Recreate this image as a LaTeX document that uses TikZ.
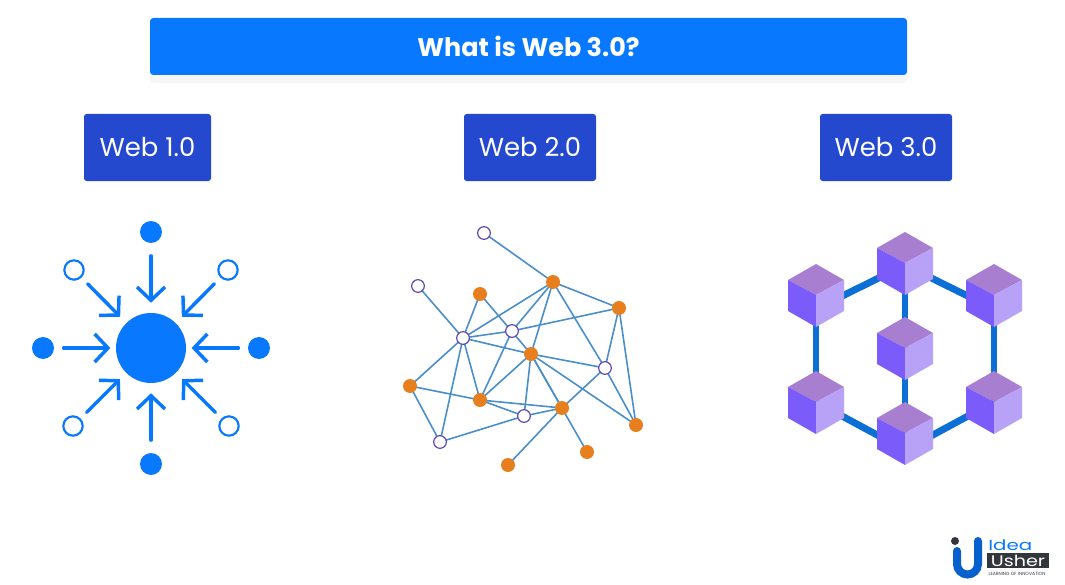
\documentclass[tikz,border=0pt]{standalone}
\usepackage{fontspec}
\setmainfont{Poppins}
\usetikzlibrary{arrows.meta,shadows,backgrounds}

\definecolor{titleblue}{HTML}{0879FF}
\definecolor{boxblue}{HTML}{2449CF}
\definecolor{hubblue}{HTML}{0879FF}
\definecolor{linkblue}{HTML}{4A8FCB}
\definecolor{ringviolet}{HTML}{5B45B5}
\definecolor{dotorange}{HTML}{E77F1E}
\definecolor{chainblue}{HTML}{0B6FD6}
\definecolor{cubetop}{HTML}{A77ED0}
\definecolor{cubeleft}{HTML}{7B5BFA}
\definecolor{cuberight}{HTML}{B8A2F7}
\definecolor{logodark}{HTML}{33363B}

\tikzset{
  webbox/.style={fill=boxblue, rounded corners=2pt, text=white, font=\fontsize{19.4}{19}\selectfont, inner sep=0pt, minimum height=50.25pt},
  hubdot/.style={circle, fill=hubblue, inner sep=0pt, minimum size=16.5pt},
  hubring/.style={circle, draw=hubblue, fill=white, line width=1.6pt, inner sep=0pt, minimum size=14.5pt},
  inarrow/.style={draw=hubblue, line width=2.6pt, line cap=round, -{Straight Barb[length=10pt,width=21pt]}},
  peerdot/.style={circle, fill=dotorange, inner sep=0pt, minimum size=10.5pt},
  peerring/.style={circle, draw=ringviolet, fill=white, line width=0.9pt, inner sep=0pt, minimum size=9.5pt},
  peerlink/.style={draw=linkblue, line width=1.2pt},
  chainlink/.style={draw=chainblue, line width=5.2pt},
  pics/cube/.style={code={
    \fill[cubetop] (0,0) -- (-28,-15) -- (0,-31) -- (28,-15) -- cycle;
    \fill[cubeleft] (0,0) -- (-28,-15) -- (-28,16) -- (0,32) -- cycle;
    \fill[cuberight] (0,0) -- (28,-15) -- (28,16) -- (0,32) -- cycle;
  }}
}

\begin{document}
\begin{tikzpicture}[x=0.75pt, y=-0.75pt]
\useasboundingbox (0,0) rectangle (1065,585);

\node (title) [fill=titleblue, rounded corners=2.5pt, text=white, inner sep=0pt, minimum width=567.75pt, minimum height=42.75pt, drop shadow={opacity=0.07, shadow xshift=0pt, shadow yshift=-6pt}, font=\fontsize{19.1}{19}\selectfont\bfseries] at (528.5,46.5) {What is Web 3.0?};
\node (web1) [webbox, minimum width=95.25pt] at (147.5,147.5) {Web 1.0};
\node (web2) [webbox, minimum width=99pt] at (530,147.5) {Web 2.0};
\node (web3) [webbox, minimum width=99pt] at (886,147.5) {Web 3.0};

% web 1.0
\node (hub) [circle, fill=hubblue, inner sep=0pt, minimum size=52.5pt] at (151,348) {};
\node (dotn) [hubdot] at (151,232) {};
\node (dots) [hubdot] at (151,464) {};
\node (dotw) [hubdot] at (43,348) {};
\node (dote) [hubdot] at (259,348) {};
\node (ringnw) [hubring] at (74,270) {};
\node (ringne) [hubring] at (228,270) {};
\node (ringsw) [hubring] at (73,426) {};
\node (ringse) [hubring] at (229,426) {};

\draw [inarrow, shorten <=9.5pt, shorten >=7.5pt] (dotn) -- (hub);
\draw [inarrow, shorten <=9.5pt, shorten >=7.5pt] (dots) -- (hub);
\draw [inarrow, shorten <=7pt, shorten >=4pt] (dotw) -- (hub);
\draw [inarrow, shorten <=7pt, shorten >=4pt] (dote) -- (hub);
\draw [inarrow, shorten <=6.5pt, shorten >=6.5pt] (ringnw) -- (hub);
\draw [inarrow, shorten <=6.5pt, shorten >=6.5pt] (ringne) -- (hub);
\draw [inarrow, shorten <=6.5pt, shorten >=6.5pt] (ringsw) -- (hub);
\draw [inarrow, shorten <=6.5pt, shorten >=6.5pt] (ringse) -- (hub);

% web 2.0
\node (pa) [peerring] at (484,233) {};
\node (pb) [peerring] at (418,286) {};
\node (pc) [peerdot] at (553,282) {};
\node (pd) [peerdot] at (480,294) {};
\node (pe) [peerdot] at (619,308) {};
\node (pf) [peerring] at (512,331) {};
\node (pg) [peerring] at (463,338) {};
\node (ph) [peerdot] at (531,354) {};
\node (pi) [peerring] at (605,368) {};
\node (pj) [peerdot] at (410,386) {};
\node (pk) [peerdot] at (480,400) {};
\node (pl) [peerdot] at (562,408) {};
\node (pm) [peerring] at (524,416) {};
\node (pn) [peerring] at (440,442) {};
\node (po) [peerdot] at (636,425) {};
\node (pq) [peerdot] at (587,452) {};
\node (pr) [peerdot] at (508,465) {};

\begin{scope}[on background layer]
\foreach \from/\to in {pa/pc, pb/pg, pc/pe, pc/pg, pc/pf, pc/ph, pc/pi, pd/pg, pd/ph,
  pe/pf, pe/pi, pe/po, pf/pg, pf/pk, pg/ph, pg/pj, pg/pk, pg/pn, ph/pi, ph/pk, ph/pm,
  ph/pl, ph/pq, ph/po, pi/pl, pi/po, pj/pk, pj/pn, pk/pl, pk/pm, pl/pm, pl/pr, pm/pn}
  \draw [peerlink] (\from.center) -- (\to.center);
\end{scope}

% web 3.0
\coordinate (linka) at (905,265);
\coordinate (linkb) at (994,309);
\coordinate (linkc) at (994,402);
\coordinate (linkd) at (905,450);
\coordinate (linke) at (816,402);
\coordinate (linkf) at (816,309);

\foreach \from/\to in {linka/linkb, linkb/linkc, linkc/linkd, linkd/linke, linke/linkf, linkf/linka, linka/linkd}
  \draw [chainlink] (\from) -- (\to);
\foreach \x/\y in {905/263, 994/295, 994/402, 905/433, 816/402, 816/295, 905/348}
  \pic at (\x,\y) {cube};

% logo
\draw [line width=6pt, line cap=round, color=titleblue!80!black] (957,551) -- (957,564) arc [start angle=180, end angle=0, radius=10.5] -- (978,541);
\node (logodot) [circle, fill=logodark, inner sep=0pt, minimum size=6pt] at (955,541) {};
\node (logoidea) [text=titleblue, anchor=west, inner sep=0pt, font=\fontsize{11}{11}\selectfont] at (988,545) {\scalebox{1.35}[1]{Idea}};
\node (logousher) [fill=logodark, text=white, inner sep=0pt, minimum width=46.5pt, minimum height=11pt, font=\fontsize{11.5}{11}\selectfont] at (1018,560.5) {\scalebox{1.25}[1]{Usher}};
\node (logotag) [text=logodark, inner sep=0pt, font=\fontsize{3.4}{4}\selectfont] at (1017,574) {LEARNING OF INNOVATION};
\end{tikzpicture}
\end{document}
